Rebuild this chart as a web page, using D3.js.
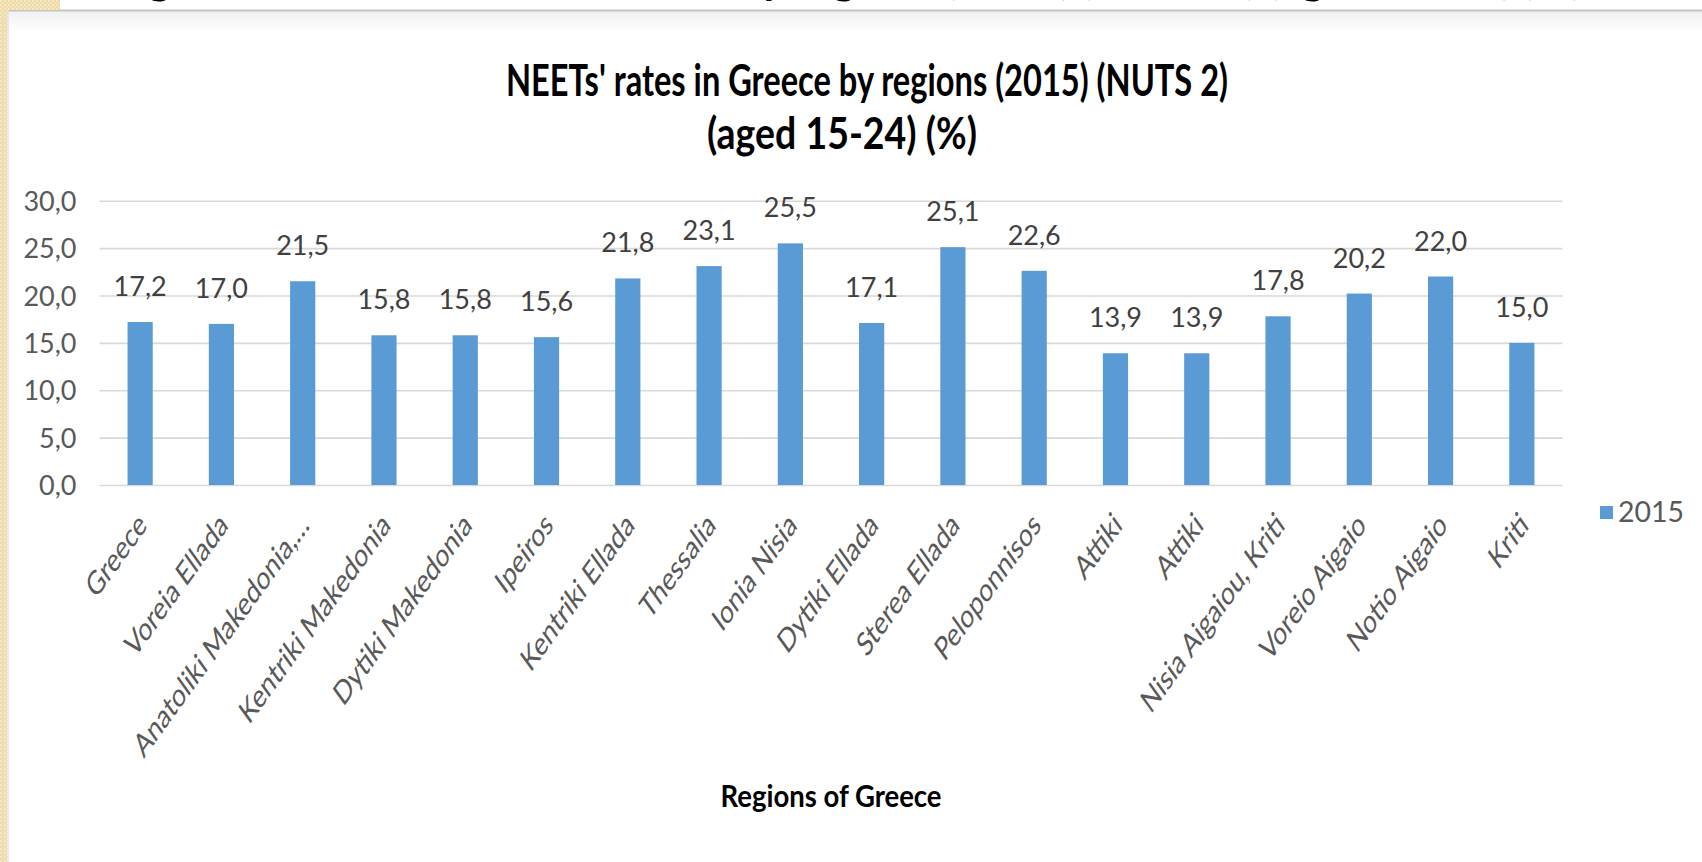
<!DOCTYPE html>
<html>
<head>
<meta charset="utf-8">
<script src="https://cdn.jsdelivr.net/npm/d3@7"></script>
<style>
  html, body { margin: 0; padding: 0; background: #fff; overflow: hidden; }
  svg { display: block; }
</style>
</head>
<body>
<svg id="chart" width="1702" height="862"></svg>
<script>
// ---- data -------------------------------------------------------------
const regions = [
  "Greece", "Voreia Ellada", "Anatoliki Makedonia,\u2026", "Kentriki Makedonia",
  "Dytiki Makedonia", "Ipeiros", "Kentriki Ellada", "Thessalia", "Ionia Nisia",
  "Dytiki Ellada", "Sterea Ellada", "Peloponnisos", "Attiki", "Attiki",
  "Nisia Aigaiou, Kriti", "Voreio Aigaio", "Notio Aigaio", "Kriti"
];
const rates2015 = [
  17.2, 17.0, 21.5, 15.8, 15.8, 15.6, 21.8, 23.1, 25.5,
  17.1, 25.1, 22.6, 13.9, 13.9, 17.8, 20.2, 22.0, 15.0
];
const yTickValues = [0, 5, 10, 15, 20, 25, 30];
const seriesName = "2015";
const chartTitle = ["NEETs' rates in Greece by regions (2015) (NUTS 2)", "(aged 15-24) (%)"];
const xAxisTitle = "Regions of Greece";
const slideHeading = "Figure 5: NEETs' rates in Greece by regions (2015) (NUTS 2) (aged 15-24) (%)";

// ---- setup ------------------------------------------------------------
const W = 1702, H = 862;
const FONT = "Lato, 'Liberation Sans', sans-serif";
const BAR = "#5b9bd5";
const svg = d3.select("#chart");

const gr = d3.formatLocale({ decimal: ",", thousands: ".", grouping: [3], currency: ["", "\u20ac"] });
const fmt = gr.format(".1f");

// squeeze a text node horizontally to a given width
function fitWidth(sel, width) {
  sel.attr("textLength", width).attr("lengthAdjust", "spacingAndGlyphs");
}

// ---- slide frame ------------------------------------------------------
const defs = svg.append("defs");
const pat = defs.append("pattern").attr("id", "paper")
  .attr("width", 4).attr("height", 4).attr("patternUnits", "userSpaceOnUse");
pat.append("rect").attr("width", 4).attr("height", 4).attr("fill", "#ecd9a6");
pat.append("rect").attr("x", 0).attr("y", 0).attr("width", 2).attr("height", 2).attr("fill", "#f6e9c6");
pat.append("rect").attr("x", 2).attr("y", 2).attr("width", 2).attr("height", 2).attr("fill", "#f4e4ba");

const shade = defs.append("linearGradient").attr("id", "shade").attr("x1", 0).attr("x2", 0).attr("y1", 0).attr("y2", 1);
shade.append("stop").attr("offset", 0).attr("stop-color", "#f0f0f0");
shade.append("stop").attr("offset", 1).attr("stop-color", "#ffffff");

svg.append("rect").attr("width", W).attr("height", H).attr("fill", "#fff");

// page heading above the slide; only its lowest strokes reach into view
svg.append("text")
  .attr("x", 112).attr("y", -6)
  .style("font", `bold 40px ${FONT}`).attr("fill", "#000")
  .text(slideHeading)
  .call(fitWidth, 1470);

svg.append("rect").attr("x", 0).attr("y", 10).attr("width", W).attr("height", 22).attr("fill", "url(#shade)");
svg.append("line").attr("x1", 8).attr("x2", W).attr("y1", 10.5).attr("y2", 10.5)
  .attr("stroke", "#c4c4c4").attr("stroke-width", 2);
svg.append("rect").attr("x", 0).attr("y", 0).attr("width", 60).attr("height", 10).attr("fill", "url(#paper)");
svg.append("rect").attr("x", 0).attr("y", 0).attr("width", 7).attr("height", H).attr("fill", "url(#paper)");
svg.append("line").attr("x1", 8).attr("x2", 8).attr("y1", 10).attr("y2", H)
  .attr("stroke", "#e2e2e2").attr("stroke-width", 1.5);

// ---- scales -----------------------------------------------------------
const plot = { left: 99.5, right: 1562.5, top: 200.7, bottom: 485 };
const x = d3.scaleBand()
  .domain(d3.range(regions.length))
  .range([plot.left, plot.right])
  .paddingInner(0.69).paddingOuter(0.345);
const y = d3.scaleLinear().domain([0, 30]).range([plot.bottom, plot.top]);

// ---- gridlines + y axis ----------------------------------------------
const gy = svg.append("g")
  .attr("transform", `translate(${plot.left},0)`)
  .call(d3.axisLeft(y).tickValues(yTickValues).tickFormat(fmt)
    .tickSize(-(plot.right - plot.left)).tickPadding(23));
gy.select(".domain").remove();
gy.selectAll(".tick line").attr("stroke", "#d9d9d9").attr("stroke-width", 1.6);
gy.selectAll(".tick text").attr("fill", "#595959").attr("dy", "0.36em")
  .style("font", `27px ${FONT}`);

// ---- bars -------------------------------------------------------------
svg.append("g").selectAll("rect")
  .data(rates2015)
  .join("rect")
  .attr("x", (d, i) => x(i))
  .attr("width", x.bandwidth())
  .attr("y", d => y(d))
  .attr("height", d => y(0) - y(d))
  .attr("fill", BAR);

// value labels
svg.append("g").selectAll("text")
  .data(rates2015)
  .join("text")
  .attr("x", (d, i) => x(i) + x.bandwidth() / 2)
  .attr("y", d => y(d) - 26)
  .attr("text-anchor", "middle")
  .attr("fill", "#404040")
  .style("font", `27px ${FONT}`)
  .text(d => fmt(d));

// ---- x axis: labels turned 45deg, narrowed horizontally ----------------
const gx = svg.append("g")
  .attr("transform", `translate(0,${plot.bottom})`)
  .call(d3.axisBottom(x).tickSize(0).tickFormat(i => regions[i]));
gx.select(".domain").remove();
gx.selectAll(".tick text")
  .attr("x", 0).attr("y", 0).attr("dy", 0)
  .attr("text-anchor", "end")
  .attr("transform", "translate(8,42) scale(0.72,1) rotate(-45)")
  .attr("fill", "#595959")
  .style("font", `33px ${FONT}`);

// ---- titles -----------------------------------------------------------
const t1 = svg.append("text").attr("x", 867).attr("y", 96).attr("text-anchor", "middle")
  .style("font", `bold 43px ${FONT}`).attr("fill", "#000").text(chartTitle[0]);
t1.call(fitWidth, 722);
const t2 = svg.append("text").attr("x", 842).attr("y", 149).attr("text-anchor", "middle")
  .style("font", `bold 43px ${FONT}`).attr("fill", "#000").text(chartTitle[1]);
t2.call(fitWidth, 270);

const at = svg.append("text").attr("x", 831).attr("y", 807).attr("text-anchor", "middle")
  .style("font", `bold 30px ${FONT}`).attr("fill", "#000").text(xAxisTitle);
at.call(fitWidth, 221);

// ---- legend -----------------------------------------------------------
const lg = svg.append("g").attr("transform", "translate(1600,506)");
lg.append("rect").attr("width", 13).attr("height", 13).attr("fill", BAR);
lg.append("text").attr("x", 18).attr("y", 16)
  .attr("fill", "#595959").style("font", `28px ${FONT}`)
  .text(seriesName).call(fitWidth, 66);
</script>
</body>
</html>
